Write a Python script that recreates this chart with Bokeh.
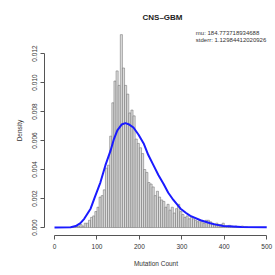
from bokeh.plotting import figure
from bokeh.models import Range1d, FixedTicker, Label
from bokeh.embed import file_html
from bokeh.resources import INLINE

# ---- data ----
bin_width = 5
bin_starts = list(range(40, 455, 5))
densities = [
    0.00005, 0.00005, 0.0001, 0.0001, 0.0002, 0.0001, 0.0003, 0.0003, 0.0005, 0.0007,
    0.0008, 0.0011, 0.0014, 0.0021, 0.0022, 0.0026, 0.0041, 0.0043, 0.0063, 0.0086,
    0.0101, 0.0108, 0.0098, 0.0133, 0.0110, 0.0098, 0.0092, 0.0079, 0.0081, 0.0077,
    0.0061, 0.0058, 0.0055, 0.0051, 0.0040, 0.0038, 0.0031, 0.0030, 0.0028, 0.0022,
    0.0025, 0.0021, 0.0019, 0.0018, 0.0014, 0.0016, 0.0012, 0.0014, 0.0010, 0.0013,
    0.0016, 0.0011, 0.0009, 0.0007, 0.0008, 0.0006, 0.0007, 0.0006, 0.0005, 0.0004,
    0.0005, 0.0004, 0.0003, 0.0005, 0.0005, 0.0004, 0.0003, 0.0002, 0.0003, 0.0002,
    0.0002, 0.0003, 0.0001, 0.0001, 0.00015, 0.0001, 0.00005, 0.0001, 0.00005, 0.00005,
    0.0001, 0.00005, 0.00005,
]

curve_x = [0, 38, 50, 61, 70, 85, 95, 108, 120, 132, 140, 148, 158, 167, 176, 186, 198,
           210, 221, 233, 245, 257, 268, 280, 297, 310, 320, 344, 367, 380, 398, 420, 440, 500]
curve_y = [0.0, 0.00002, 0.0001, 0.0003, 0.0006, 0.0013, 0.0021, 0.0031, 0.0043, 0.0053,
           0.0061, 0.0067, 0.0071, 0.0072, 0.0071, 0.0069, 0.0064, 0.0058, 0.0050, 0.0043,
           0.0036, 0.0030, 0.0024, 0.0019, 0.0013, 0.0010, 0.0008, 0.0005, 0.0003, 0.0002,
           0.0001, 0.00007, 0.00004, 0.00002]

x_ticks = [0, 100, 200, 300, 400, 500]
y_ticks = [0.0, 0.002, 0.004, 0.006, 0.008, 0.010, 0.012]
y_tick_labels = ["0.000", "0.002", "0.004", "0.006", "0.008", "0.010", "0.012"]

title_text = "CNS\u2013GBM"
info_lines = ["mu: 184.773718934688", "stderr: 1.12984412020926"]

FONT = "Liberation Sans"

p = figure(width=275, height=275, output_backend="svg", toolbar_location=None,
           x_range=Range1d(-23.6, 501.8), y_range=Range1d(-0.00055, 0.01393),
           min_border_left=44, min_border_right=8, min_border_top=25, min_border_bottom=40)
p.outline_line_color = None
p.grid.visible = False
p.background_fill_color = "white"
p.border_fill_color = "white"

p.title.text = title_text
p.title.align = "left"
p.title.offset = 98
p.title.standoff = 8
p.title.text_font = FONT
p.title.text_font_size = "8px"
p.title.text_font_style = "bold"
p.title.text_color = "#222222"

lefts = bin_starts
rights = [s + bin_width for s in bin_starts]
p.quad(left=lefts, right=rights, bottom=0, top=densities,
       fill_color="#dcdcdc", line_color="#666666", line_width=0.5)

p.line(curve_x, curve_y, line_color="#1a1aff", line_width=2)

for ax in (p.xaxis[0], p.yaxis[0]):
    ax.axis_line_color = "#555555"
    ax.major_tick_line_color = "#555555"
    ax.minor_tick_line_color = None
    ax.major_tick_in = 0
    ax.major_tick_out = 4
    ax.major_label_text_font = FONT
    ax.major_label_text_font_size = "6.5px"
    ax.major_label_text_color = "#333333"
    ax.axis_label_text_font = FONT
    ax.axis_label_text_font_size = "6.5px"
    ax.axis_label_text_font_style = "normal"
    ax.axis_label_text_color = "#333333"

p.xaxis.ticker = FixedTicker(ticks=x_ticks)
p.xaxis.bounds = (x_ticks[0], x_ticks[-1])
p.xaxis.axis_label = "Mutation Count"
p.xaxis.major_label_standoff = 4
p.xaxis.axis_label_standoff = 8

p.yaxis.ticker = FixedTicker(ticks=y_ticks)
p.yaxis.bounds = (y_ticks[0], y_ticks[-1])
p.yaxis.major_label_overrides = {t: l for t, l in zip(y_ticks, y_tick_labels)}
p.yaxis.major_label_orientation = "vertical"
p.yaxis.axis_label = "Density"
p.yaxis.major_label_standoff = 3
p.yaxis.axis_label_standoff = 7

p.add_layout(Label(x=333, y=0.01338, text=info_lines[0], text_align="left",
                   text_baseline="middle", text_font=FONT, text_font_size="6px",
                   text_color="#333333"))
p.add_layout(Label(x=333, y=0.01290, text=info_lines[1], text_align="left",
                   text_baseline="middle", text_font=FONT, text_font_size="6px",
                   text_color="#333333"))

open("out.html", "w").write(file_html(p, INLINE))
